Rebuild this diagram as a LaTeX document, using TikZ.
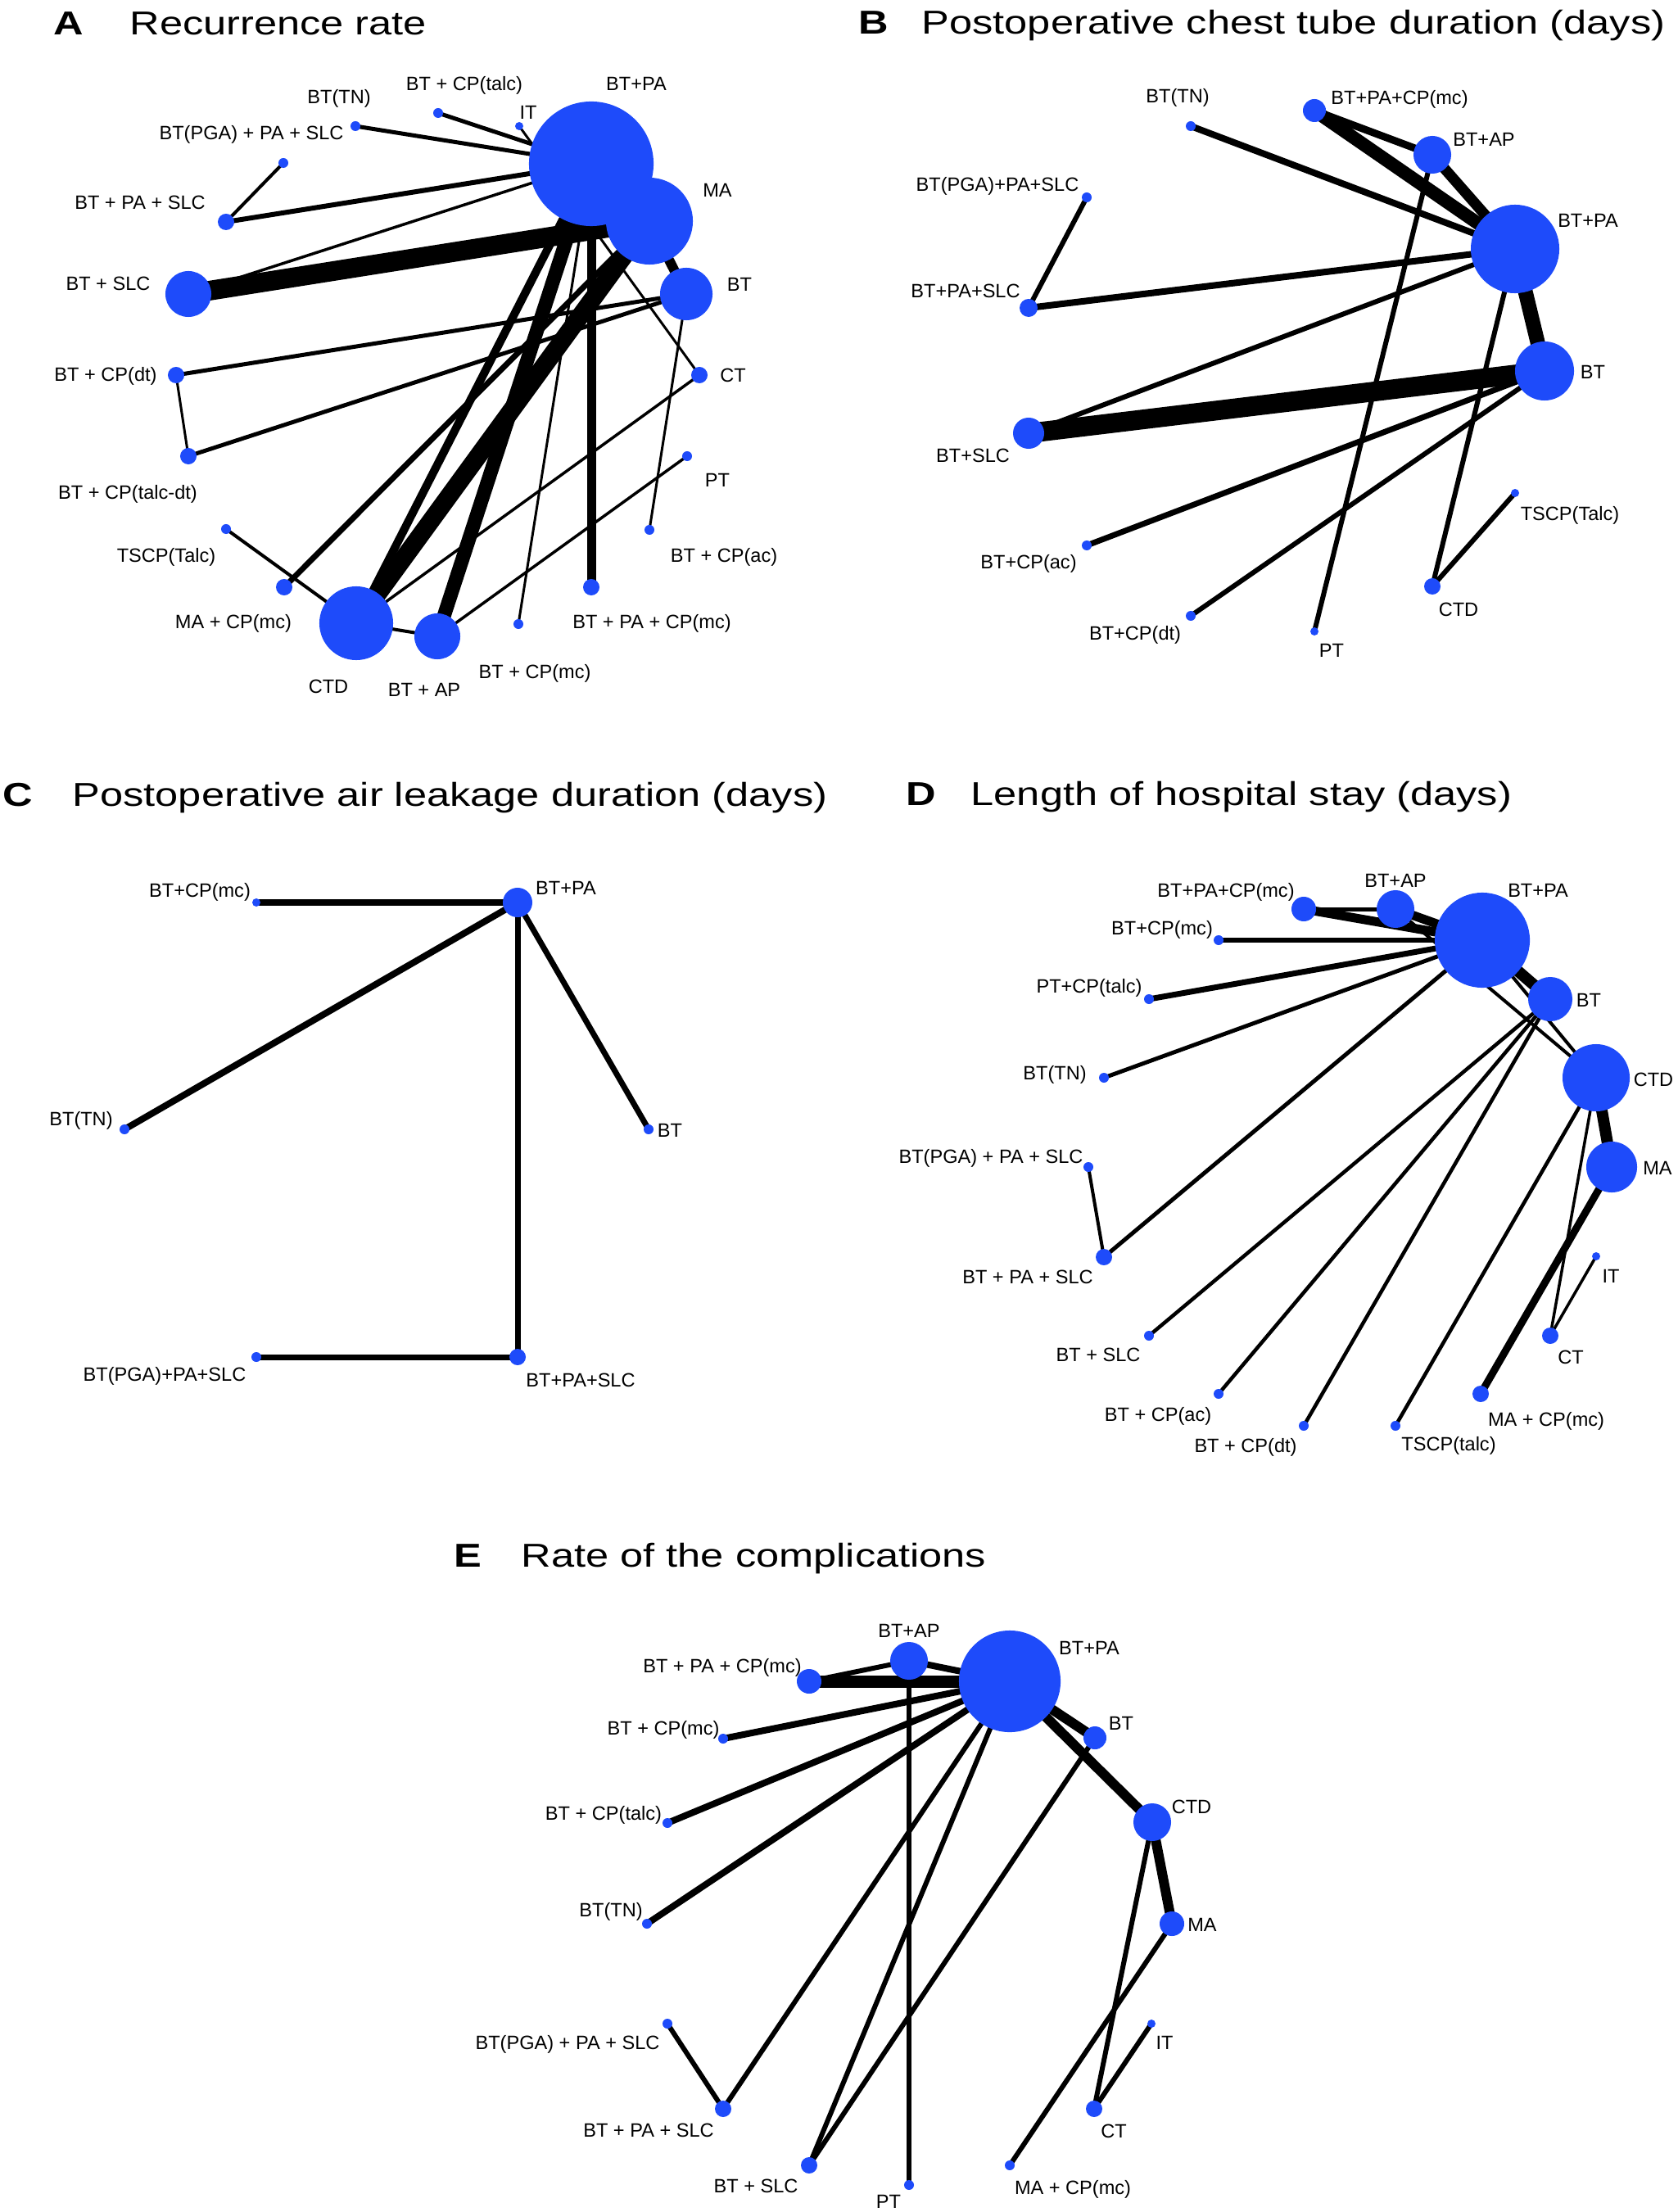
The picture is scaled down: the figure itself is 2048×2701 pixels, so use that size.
\documentclass[tikz,border=0pt]{standalone}
\usepackage{fontspec}
\setmainfont{Liberation Sans}
\newfontfamily\titlefont[FakeStretch=1.25]{Liberation Sans}
\definecolor{nblue}{RGB}{30,75,250}
\pgfdeclarelayer{bg}
\pgfsetlayers{bg,main}
\tikzset{
  nd/.style={circle,fill=nblue,draw=none,inner sep=0pt,minimum size=#1*0.02cm},
  lb/.style={inner sep=0pt,font=\fontsize{6.7pt}{7pt}\selectfont,text height=4.8pt,text depth=0pt},
  ttl/.style={inner sep=0pt,anchor=base west,font=\titlefont\fontsize{11.5pt}{12pt}\selectfont},
  ed/.style={line width=#1*0.01cm,draw=black},
}
\begin{document}
\begin{tikzpicture}[x=0.01cm,y=-0.01cm]
\useasboundingbox (0,0) rectangle (2048,2701);

% ================= Titles =================
\node[ttl] (tA) at (65,43) {\bfseries A};
\node[ttl] (tAt) at (158,43) {Recurrence rate};
\node[ttl] (tB) at (1048,42) {\bfseries B};
\node[ttl] (tBt) at (1125,42) {Postoperative chest tube duration (days)};
\node[ttl] (tC) at (3,984) {\bfseries C};
\node[ttl] (tCt) at (88,984) {Postoperative air leakage duration (days)};
\node[ttl] (tD) at (1106,983) {\bfseries D};
\node[ttl] (tDt) at (1185,983) {Length of hospital stay (days)};
\node[ttl] (tE) at (554,1913) {\bfseries E};
\node[ttl] (tEt) at (636,1913) {Rate of the complications};

% ================= Panel A =================
\node[nd=76] (aBTPA) at (722,200) {};
\node[nd=53] (aMA) at (793,270) {};
\node[nd=32] (aBT) at (838,359) {};
\node[nd=28] (aBTSLC) at (230,359) {};
\node[nd=10] (aBTPASLC) at (276,271) {};
\node[nd=6] (aPGA) at (346,199) {};
\node[nd=6] (aTN) at (434,154) {};
\node[nd=6] (aTALC) at (535,138) {};
\node[nd=5] (aIT) at (634,154) {};
\node[nd=10] (aDT) at (215,458) {};
\node[nd=10] (aTALCDT) at (230,557) {};
\node[nd=10] (aCT) at (854,458) {};
\node[nd=6] (aPT) at (839,557) {};
\node[nd=6] (aAC) at (793,647) {};
\node[nd=6] (aTSCP) at (276,646) {};
\node[nd=10] (aMACPMC) at (347,717) {};
\node[nd=10] (aPACPMC) at (722,717) {};
\node[nd=45] (aCTD) at (435,761) {};
\node[nd=28] (aAP) at (534,777) {};
\node[nd=6] (aCPMC) at (633,762) {};

\begin{pgfonlayer}{bg}
\draw[ed=5] (aTN.center) -- (aBTPA.center);
\draw[ed=5] (aTALC.center) -- (aBTPA.center);
\draw[ed=6] (aBTPASLC.center) -- (aBTPA.center);
\draw[ed=4] (aPGA.center) -- (aBTPASLC.center);
\draw[ed=3.5] (aBTSLC.center) -- (aBTPA.center);
\draw[ed=24] (aBTSLC.center) -- (aMA.center);
\draw[ed=12] (aMA.center) -- (aBT.center);
\draw[ed=5] (aDT.center) -- (aBT.center);
\draw[ed=5] (aTALCDT.center) -- (aBT.center);
\draw[ed=3] (aDT.center) -- (aTALCDT.center);
\draw[ed=3] (aBT.center) -- (aAC.center);
\draw[ed=3] (aIT.center) -- (aCT.center);
\draw[ed=3.5] (aCT.center) -- (aCTD.center);
\draw[ed=3.5] (aPT.center) -- (aAP.center);
\draw[ed=11] (aPACPMC.center) -- (aBTPA.center);
\draw[ed=3] (aCPMC.center) -- (aBTPA.center);
\draw[ed=7] (aMACPMC.center) -- (aMA.center);
\draw[ed=4] (aTSCP.center) -- (aCTD.center);
\draw[ed=4] (aCTD.center) -- (aAP.center);
\draw[ed=22] (aCTD.center) -- (aMA.center);
\draw[ed=10] (aCTD.center) -- (aBTPA.center);
\draw[ed=17] (aAP.center) -- (aBTPA.center);
\end{pgfonlayer}

\node[lb] (laTALC) at (567,102) {BT + CP(talc)};
\node[lb] (laTN) at (414,118) {BT(TN)};
\node[lb] (laIT) at (645,137) {IT};
\node[lb] (laBTPA) at (777,102) {BT+PA};
\node[lb] (laPGA) at (307,162) {BT(PGA) + PA + SLC};
\node[lb] (laMA) at (876,232) {MA};
\node[lb] (laBTPASLC) at (171,247) {BT + PA + SLC};
\node[lb] (laBTSLC) at (132,346) {BT + SLC};
\node[lb] (laBT) at (903,347) {BT};
\node[lb] (laDT) at (129,457) {BT + CP(dt)};
\node[lb] (laCT) at (895,458) {CT};
\node[lb] (laTALCDT) at (156,601) {BT + CP(talc-dt)};
\node[lb] (laPT) at (876,586) {PT};
\node[lb] (laTSCP) at (203,678) {TSCP(Talc)};
\node[lb] (laAC) at (884,678) {BT + CP(ac)};
\node[lb] (laMACPMC) at (285,759) {MA + CP(mc)};
\node[lb] (laPACPMC) at (796,759) {BT + PA + CP(mc)};
\node[lb] (laCPMC) at (653,820) {BT + CP(mc)};
\node[lb] (laCTD) at (401,838) {CTD};
\node[lb] (laAP) at (518,842) {BT + AP};

% ================= Panel B =================
\node[nd=14] (bPACPMC) at (1605,135) {};
\node[nd=6] (bTN) at (1454,154) {};
\node[nd=23] (bAP) at (1749,189) {};
\node[nd=54] (bBTPA) at (1850,304) {};
\node[nd=6] (bPGA) at (1327,241) {};
\node[nd=11] (bBTPASLC) at (1256,376) {};
\node[nd=36] (bBT) at (1886,453) {};
\node[nd=19] (bBTSLC) at (1256,529) {};
\node[nd=6] (bAC) at (1327,666) {};
\node[nd=6] (bDT) at (1454,752) {};
\node[nd=5] (bPT) at (1605,771) {};
\node[nd=10] (bCTD) at (1749,716) {};
\node[nd=5] (bTSCP) at (1850,602) {};

\begin{pgfonlayer}{bg}
\draw[ed=8] (bTN.center) -- (bBTPA.center);
\draw[ed=9] (bPACPMC.center) -- (bAP.center);
\draw[ed=16] (bPACPMC.center) -- (bBTPA.center);
\draw[ed=13] (bAP.center) -- (bBTPA.center);
\draw[ed=6] (bPGA.center) -- (bBTPASLC.center);
\draw[ed=8] (bBTPASLC.center) -- (bBTPA.center);
\draw[ed=6] (bBTSLC.center) -- (bBTPA.center);
\draw[ed=24] (bBTSLC.center) -- (bBT.center);
\draw[ed=6] (bAP.center) -- (bPT.center);
\draw[ed=6] (bBTPA.center) -- (bCTD.center);
\draw[ed=18] (bBTPA.center) -- (bBT.center);
\draw[ed=7] (bBT.center) -- (bAC.center);
\draw[ed=6] (bBT.center) -- (bDT.center);
\draw[ed=6] (bCTD.center) -- (bTSCP.center);
\end{pgfonlayer}

\node[lb] (lbTN) at (1438,117) {BT(TN)};
\node[lb] (lbPACPMC) at (1709,119) {BT+PA+CP(mc)};
\node[lb] (lbAP) at (1812,170) {BT+AP};
\node[lb] (lbPGA) at (1218,225) {BT(PGA)+PA+SLC};
\node[lb] (lbBTPA) at (1939,269) {BT+PA};
\node[lb] (lbBTPASLC) at (1179,355) {BT+PA+SLC};
\node[lb] (lbBT) at (1945,454) {BT};
\node[lb] (lbBTSLC) at (1188,556) {BT+SLC};
\node[lb] (lbTSCP) at (1917,627) {TSCP(Talc)};
\node[lb] (lbAC) at (1256,686) {BT+CP(ac)};
\node[lb] (lbCTD) at (1781,744) {CTD};
\node[lb] (lbDT) at (1386,773) {BT+CP(dt)};
\node[lb] (lbPT) at (1626,794) {PT};

% ================= Panel C =================
\node[nd=18] (cBTPA) at (632,1102) {};
\node[nd=5] (cCPMC) at (313,1102) {};
\node[nd=6] (cTN) at (152,1379) {};
\node[nd=6] (cBT) at (792,1379) {};
\node[nd=6] (cPGA) at (313,1657) {};
\node[nd=10] (cBTPASLC) at (632,1657) {};

\begin{pgfonlayer}{bg}
\draw[ed=8] (cCPMC.center) -- (cBTPA.center);
\draw[ed=8] (cTN.center) -- (cBTPA.center);
\draw[ed=7] (cBTPA.center) -- (cBT.center);
\draw[ed=7] (cBTPA.center) -- (cBTPASLC.center);
\draw[ed=7] (cPGA.center) -- (cBTPASLC.center);
\end{pgfonlayer}

\node[lb] (lcCPMC) at (244,1087) {BT+CP(mc)};
\node[lb] (lcBTPA) at (691,1084) {BT+PA};
\node[lb] (lcTN) at (99,1366) {BT(TN)};
\node[lb] (lcBT) at (818,1380) {BT};
\node[lb] (lcPGA) at (201,1678) {BT(PGA)+PA+SLC};
\node[lb] (lcBTPASLC) at (709,1685) {BT+PA+SLC};

% ================= Panel D =================
\node[nd=58] (dBTPA) at (1810,1148) {};
\node[nd=23] (dAP) at (1704,1110) {};
\node[nd=15] (dPACPMC) at (1592,1110) {};
\node[nd=6] (dCPMC) at (1488,1148) {};
\node[nd=6] (dPTCP) at (1403,1220) {};
\node[nd=27] (dBT) at (1893,1220) {};
\node[nd=6] (dTN) at (1348,1316) {};
\node[nd=41] (dCTD) at (1949,1316) {};
\node[nd=31] (dMA) at (1968,1425) {};
\node[nd=6] (dPGA) at (1329,1425) {};
\node[nd=10] (dBTPASLC) at (1348,1535) {};
\node[nd=5] (dIT) at (1949,1534) {};
\node[nd=10] (dCT) at (1893,1631) {};
\node[nd=6] (dBTSLC) at (1403,1631) {};
\node[nd=10] (dMACPMC) at (1808,1702) {};
\node[nd=6] (dAC) at (1488,1702) {};
\node[nd=6] (dDT) at (1592,1741) {};
\node[nd=6] (dTSCP) at (1704,1741) {};

\begin{pgfonlayer}{bg}
\draw[ed=5] (dPACPMC.center) -- (dAP.center);
\draw[ed=11] (dPACPMC.center) -- (dBTPA.center);
\draw[ed=11] (dAP.center) -- (dBTPA.center);
\draw[ed=6] (dCPMC.center) -- (dBTPA.center);
\draw[ed=7] (dPTCP.center) -- (dBTPA.center);
\draw[ed=5] (dTN.center) -- (dBTPA.center);
\draw[ed=14] (dBTPA.center) -- (dBT.center);
\draw[ed=4] (dAP.center) -- (dCTD.center);
\draw[ed=4] (dBTPA.center) -- (dCTD.center);
\draw[ed=4] (dPGA.center) -- (dBTPASLC.center);
\draw[ed=5] (dBTPASLC.center) -- (dBTPA.center);
\draw[ed=4.5] (dBTSLC.center) -- (dBT.center);
\draw[ed=4.5] (dAC.center) -- (dBT.center);
\draw[ed=4.5] (dDT.center) -- (dBT.center);
\draw[ed=4.5] (dTSCP.center) -- (dCTD.center);
\draw[ed=9] (dMACPMC.center) -- (dMA.center);
\draw[ed=14] (dCTD.center) -- (dMA.center);
\draw[ed=3.5] (dCT.center) -- (dCTD.center);
\draw[ed=3.5] (dCT.center) -- (dIT.center);
\end{pgfonlayer}

\node[lb] (ldAP) at (1704,1075) {BT+AP};
\node[lb] (ldPACPMC) at (1497,1087) {BT+PA+CP(mc)};
\node[lb] (ldBTPA) at (1878,1087) {BT+PA};
\node[lb] (ldCPMC) at (1419,1133) {BT+CP(mc)};
\node[lb] (ldPTCP) at (1330,1204) {PT+CP(talc)};
\node[lb] (ldBT) at (1940,1221) {BT};
\node[lb] (ldTN) at (1288,1310) {BT(TN)};
\node[lb] (ldCTD) at (2019,1318) {CTD};
\node[lb] (ldPGA) at (1210,1412) {BT(PGA) + PA + SLC};
\node[lb] (ldMA) at (2024,1426) {MA};
\node[lb] (ldBTPASLC) at (1255,1559) {BT + PA + SLC};
\node[lb] (ldIT) at (1967,1558) {IT};
\node[lb] (ldBTSLC) at (1341,1654) {BT + SLC};
\node[lb] (ldCT) at (1918,1657) {CT};
\node[lb] (ldAC) at (1414,1727) {BT + CP(ac)};
\node[lb] (ldMACPMC) at (1888,1733) {MA + CP(mc)};
\node[lb] (ldDT) at (1521,1765) {BT + CP(dt)};
\node[lb] (ldTSCP) at (1769,1763) {TSCP(talc)};

% ================= Panel E =================
\node[nd=62] (eBTPA) at (1233,2053) {};
\node[nd=23] (eAP) at (1110,2028) {};
\node[nd=15] (ePACPMC) at (988,2053) {};
\node[nd=6] (eCPMC) at (883,2123) {};
\node[nd=6] (eTALC) at (815,2226) {};
\node[nd=14] (eBT) at (1337,2122) {};
\node[nd=23] (eCTD) at (1407,2225) {};
\node[nd=6] (eTN) at (790,2349) {};
\node[nd=15] (eMA) at (1431,2349) {};
\node[nd=6] (ePGA) at (815,2471) {};
\node[nd=5] (eIT) at (1406,2471) {};
\node[nd=10] (eBTPASLC) at (883,2575) {};
\node[nd=10] (eCT) at (1336,2575) {};
\node[nd=10] (eBTSLC) at (988,2644) {};
\node[nd=6] (ePT) at (1110,2668) {};
\node[nd=6] (eMACPMC) at (1233,2644) {};

\begin{pgfonlayer}{bg}
\draw[ed=6] (ePACPMC.center) -- (eAP.center);
\draw[ed=15] (ePACPMC.center) -- (eBTPA.center);
\draw[ed=8] (eAP.center) -- (eBTPA.center);
\draw[ed=8] (eCPMC.center) -- (eBTPA.center);
\draw[ed=8] (eTALC.center) -- (eBTPA.center);
\draw[ed=8] (eTN.center) -- (eBTPA.center);
\draw[ed=6] (eAP.center) -- (ePT.center);
\draw[ed=12] (eBTPA.center) -- (eBT.center);
\draw[ed=12] (eBTPA.center) -- (eCTD.center);
\draw[ed=12] (eCTD.center) -- (eMA.center);
\draw[ed=6] (eCTD.center) -- (eCT.center);
\draw[ed=6] (eMA.center) -- (eMACPMC.center);
\draw[ed=6] (eCT.center) -- (eIT.center);
\draw[ed=6] (ePGA.center) -- (eBTPASLC.center);
\draw[ed=6] (eBTPASLC.center) -- (eBTPA.center);
\draw[ed=6] (eBTSLC.center) -- (eBTPA.center);
\draw[ed=6] (eBTSLC.center) -- (eBT.center);
\end{pgfonlayer}

\node[lb] (leAP) at (1110,1991) {BT+AP};
\node[lb] (leBTPA) at (1330,2012) {BT+PA};
\node[lb] (lePACPMC) at (882,2034) {BT + PA + CP(mc)};
\node[lb] (leBT) at (1369,2104) {BT};
\node[lb] (leCPMC) at (810,2110) {BT + CP(mc)};
\node[lb] (leCTD) at (1455,2206) {CTD};
\node[lb] (leTALC) at (737,2214) {BT + CP(talc)};
\node[lb] (leTN) at (746,2332) {BT(TN)};
\node[lb] (leMA) at (1468,2350) {MA};
\node[lb] (lePGA) at (693,2494) {BT(PGA) + PA + SLC};
\node[lb] (leIT) at (1422,2494) {IT};
\node[lb] (leBTPASLC) at (792,2601) {BT + PA + SLC};
\node[lb] (leCT) at (1360,2602) {CT};
\node[lb] (leBTSLC) at (923,2669) {BT + SLC};
\node[lb] (leMACPMC) at (1310,2671) {MA + CP(mc)};
\node[lb] (lePT) at (1085,2688) {PT};
\end{tikzpicture}
\end{document}
